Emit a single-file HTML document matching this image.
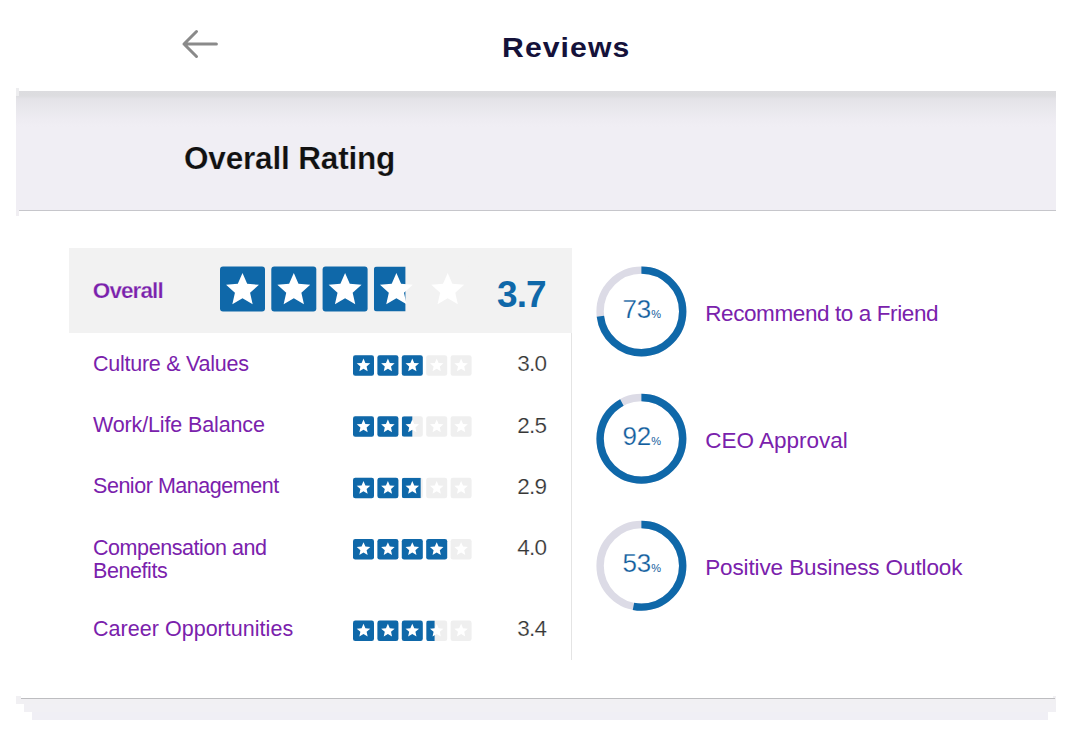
<!DOCTYPE html>
<html><head><meta charset="utf-8">
<style>
*{margin:0;padding:0;box-sizing:border-box}
html,body{width:1072px;height:732px;overflow:hidden;background:#fff;font-family:"Liberation Sans",sans-serif}
.a{position:absolute}
.t{position:absolute;white-space:nowrap;line-height:1}
.num{font-size:22.5px;color:#363636;text-align:right;letter-spacing:-0.8px;-webkit-text-stroke:0.2px #fff}
</style></head><body>
<svg class="a" style="left:175px;top:25px" width="50" height="40" viewBox="175 25 50 40"><path d="M216.4 44 H184 M196.5 31.5 L184 44 L196.5 56.5" fill="none" stroke="#8a8a8a" stroke-width="3" stroke-linecap="round" stroke-linejoin="round"/></svg>
<div class="t" style="left:502.4px;top:33px;font-size:28.5px;font-weight:bold;color:#15123a;letter-spacing:1px;transform:scaleX(1.06);transform-origin:0 0;">Reviews</div>
<div class="a" style="left:16px;top:91px;width:1040px;height:120px;background:linear-gradient(#dcdcdf 0,#dddde0 5px,#e4e3e8 8px,#e7e6eb 14px,#edebf1 26px,#f0eef4 36px)"></div>
<div class="a" style="left:19px;top:210px;width:1037px;height:1px;background:#c6c6cb"></div>
<div class="a" style="left:16px;top:88px;width:3px;height:8px;background:#ededef"></div>
<div class="a" style="left:16px;top:210px;width:3px;height:6px;background:#f0eef2"></div>
<div class="t" style="left:184px;top:143px;font-size:31.5px;font-weight:bold;color:#111;letter-spacing:-0.17px;-webkit-text-stroke:0.2px #f0eef4;">Overall Rating</div>
<div class="a" style="left:69px;top:248px;width:503px;height:85px;background:#f2f2f2"></div>
<div class="a" style="left:571px;top:333px;width:1px;height:327px;background:#e4e4e4"></div>
<div class="t" style="left:92.8px;top:280px;font-size:22.5px;font-weight:bold;color:#7a21ac;letter-spacing:-0.9px;-webkit-text-stroke:0.25px #f2f2f2;">Overall</div>
<svg class="a" style="left:220px;top:266px" width="252" height="47" viewBox="0 0 252 47"><rect x="0.00" y="0.50" width="45" height="45" rx="3" fill="#f2f2f2"/><rect x="0.00" y="0.50" width="45" height="45" rx="3" fill="#0f68a9"/><polygon points="22.50,6.90 27.18,17.76 38.95,18.85 30.07,26.66 32.67,38.20 22.50,32.16 12.33,38.20 14.93,26.66 6.05,18.85 17.82,17.76" fill="#fff"/><rect x="51.30" y="0.50" width="45" height="45" rx="3" fill="#f2f2f2"/><rect x="51.30" y="0.50" width="45" height="45" rx="3" fill="#0f68a9"/><polygon points="73.80,6.90 78.48,17.76 90.25,18.85 81.37,26.66 83.97,38.20 73.80,32.16 63.63,38.20 66.23,26.66 57.35,18.85 69.12,17.76" fill="#fff"/><rect x="102.60" y="0.50" width="45" height="45" rx="3" fill="#f2f2f2"/><rect x="102.60" y="0.50" width="45" height="45" rx="3" fill="#0f68a9"/><polygon points="125.10,6.90 129.78,17.76 141.55,18.85 132.67,26.66 135.27,38.20 125.10,32.16 114.93,38.20 117.53,26.66 108.65,18.85 120.42,17.76" fill="#fff"/><rect x="153.90" y="0.50" width="45" height="45" rx="3" fill="#f2f2f2"/><clipPath id="c220_266_3"><rect x="153.90" y="0.50" width="31.50" height="45"/></clipPath><rect x="153.90" y="0.50" width="45" height="45" rx="3" fill="#0f68a9" clip-path="url(#c220_266_3)"/><polygon points="176.40,6.90 181.08,17.76 192.85,18.85 183.97,26.66 186.57,38.20 176.40,32.16 166.23,38.20 168.83,26.66 159.95,18.85 171.72,17.76" fill="#fff"/><rect x="205.20" y="0.50" width="45" height="45" rx="3" fill="#f2f2f2"/><polygon points="227.70,6.90 232.38,17.76 244.15,18.85 235.27,26.66 237.87,38.20 227.70,32.16 217.53,38.20 220.13,26.66 211.25,18.85 223.02,17.76" fill="#fff"/></svg>
<div class="t" style="left:497px;top:276px;font-size:37px;font-weight:bold;color:#0f68a9;letter-spacing:-0.9px;">3.7</div>
<div class="t" style="left:93px;top:354px;font-size:21.5px;color:#7a21ac;letter-spacing:-0.25px;">Culture &amp; Values</div>
<div class="t" style="left:93px;top:415px;font-size:21.5px;color:#7a21ac;letter-spacing:-0.14px;">Work/Life Balance</div>
<div class="t" style="left:93px;top:476px;font-size:21.5px;color:#7a21ac;letter-spacing:-0.46px;">Senior Management</div>
<div class="t" style="left:93px;top:537px;font-size:21.5px;color:#7a21ac;letter-spacing:-0.43px;line-height:23px;">Compensation and<br>Benefits</div>
<div class="t" style="left:93px;top:619px;font-size:21.5px;color:#7a21ac;letter-spacing:0.03px;">Career Opportunities</div>
<svg class="a" style="left:353px;top:355px" width="121" height="22" viewBox="0 0 121 22"><rect x="0.00" y="0.30" width="21" height="20.5" rx="2.3" fill="#efefef"/><rect x="0.00" y="0.30" width="21" height="20.5" rx="2.3" fill="#0f68a9"/><polygon points="10.50,3.45 12.42,7.90 17.25,8.36 13.61,11.56 14.67,16.29 10.50,13.82 6.33,16.29 7.39,11.56 3.75,8.36 8.58,7.90" fill="#fff"/><rect x="24.40" y="0.30" width="21" height="20.5" rx="2.3" fill="#efefef"/><rect x="24.40" y="0.30" width="21" height="20.5" rx="2.3" fill="#0f68a9"/><polygon points="34.90,3.45 36.82,7.90 41.65,8.36 38.01,11.56 39.07,16.29 34.90,13.82 30.73,16.29 31.79,11.56 28.15,8.36 32.98,7.90" fill="#fff"/><rect x="48.80" y="0.30" width="21" height="20.5" rx="2.3" fill="#efefef"/><rect x="48.80" y="0.30" width="21" height="20.5" rx="2.3" fill="#0f68a9"/><polygon points="59.30,3.45 61.22,7.90 66.05,8.36 62.41,11.56 63.47,16.29 59.30,13.82 55.13,16.29 56.19,11.56 52.55,8.36 57.38,7.90" fill="#fff"/><rect x="73.20" y="0.30" width="21" height="20.5" rx="2.3" fill="#efefef"/><polygon points="83.70,3.45 85.62,7.90 90.45,8.36 86.81,11.56 87.87,16.29 83.70,13.82 79.53,16.29 80.59,11.56 76.95,8.36 81.78,7.90" fill="#fff"/><rect x="97.60" y="0.30" width="21" height="20.5" rx="2.3" fill="#efefef"/><polygon points="108.10,3.45 110.02,7.90 114.85,8.36 111.21,11.56 112.27,16.29 108.10,13.82 103.93,16.29 104.99,11.56 101.35,8.36 106.18,7.90" fill="#fff"/></svg>
<div class="t num" style="left:500px;width:46.2px;top:353px">3.0</div>
<svg class="a" style="left:353px;top:416px" width="121" height="22" viewBox="0 0 121 22"><rect x="0.00" y="0.30" width="21" height="20.5" rx="2.3" fill="#efefef"/><rect x="0.00" y="0.30" width="21" height="20.5" rx="2.3" fill="#0f68a9"/><polygon points="10.50,3.45 12.42,7.90 17.25,8.36 13.61,11.56 14.67,16.29 10.50,13.82 6.33,16.29 7.39,11.56 3.75,8.36 8.58,7.90" fill="#fff"/><rect x="24.40" y="0.30" width="21" height="20.5" rx="2.3" fill="#efefef"/><rect x="24.40" y="0.30" width="21" height="20.5" rx="2.3" fill="#0f68a9"/><polygon points="34.90,3.45 36.82,7.90 41.65,8.36 38.01,11.56 39.07,16.29 34.90,13.82 30.73,16.29 31.79,11.56 28.15,8.36 32.98,7.90" fill="#fff"/><rect x="48.80" y="0.30" width="21" height="20.5" rx="2.3" fill="#efefef"/><clipPath id="c353_416_2"><rect x="48.80" y="0.30" width="10.50" height="20.5"/></clipPath><rect x="48.80" y="0.30" width="21" height="20.5" rx="2.3" fill="#0f68a9" clip-path="url(#c353_416_2)"/><polygon points="59.30,3.45 61.22,7.90 66.05,8.36 62.41,11.56 63.47,16.29 59.30,13.82 55.13,16.29 56.19,11.56 52.55,8.36 57.38,7.90" fill="#fff"/><rect x="73.20" y="0.30" width="21" height="20.5" rx="2.3" fill="#efefef"/><polygon points="83.70,3.45 85.62,7.90 90.45,8.36 86.81,11.56 87.87,16.29 83.70,13.82 79.53,16.29 80.59,11.56 76.95,8.36 81.78,7.90" fill="#fff"/><rect x="97.60" y="0.30" width="21" height="20.5" rx="2.3" fill="#efefef"/><polygon points="108.10,3.45 110.02,7.90 114.85,8.36 111.21,11.56 112.27,16.29 108.10,13.82 103.93,16.29 104.99,11.56 101.35,8.36 106.18,7.90" fill="#fff"/></svg>
<div class="t num" style="left:500px;width:46.2px;top:415px">2.5</div>
<svg class="a" style="left:353px;top:477px" width="121" height="22" viewBox="0 0 121 22"><rect x="0.00" y="0.80" width="21" height="20.5" rx="2.3" fill="#efefef"/><rect x="0.00" y="0.80" width="21" height="20.5" rx="2.3" fill="#0f68a9"/><polygon points="10.50,3.95 12.42,8.40 17.25,8.86 13.61,12.06 14.67,16.79 10.50,14.32 6.33,16.79 7.39,12.06 3.75,8.86 8.58,8.40" fill="#fff"/><rect x="24.40" y="0.80" width="21" height="20.5" rx="2.3" fill="#efefef"/><rect x="24.40" y="0.80" width="21" height="20.5" rx="2.3" fill="#0f68a9"/><polygon points="34.90,3.95 36.82,8.40 41.65,8.86 38.01,12.06 39.07,16.79 34.90,14.32 30.73,16.79 31.79,12.06 28.15,8.86 32.98,8.40" fill="#fff"/><rect x="48.80" y="0.80" width="21" height="20.5" rx="2.3" fill="#efefef"/><clipPath id="c353_477_2"><rect x="48.80" y="0.80" width="18.90" height="20.5"/></clipPath><rect x="48.80" y="0.80" width="21" height="20.5" rx="2.3" fill="#0f68a9" clip-path="url(#c353_477_2)"/><polygon points="59.30,3.95 61.22,8.40 66.05,8.86 62.41,12.06 63.47,16.79 59.30,14.32 55.13,16.79 56.19,12.06 52.55,8.86 57.38,8.40" fill="#fff"/><rect x="73.20" y="0.80" width="21" height="20.5" rx="2.3" fill="#efefef"/><polygon points="83.70,3.95 85.62,8.40 90.45,8.86 86.81,12.06 87.87,16.79 83.70,14.32 79.53,16.79 80.59,12.06 76.95,8.86 81.78,8.40" fill="#fff"/><rect x="97.60" y="0.80" width="21" height="20.5" rx="2.3" fill="#efefef"/><polygon points="108.10,3.95 110.02,8.40 114.85,8.86 111.21,12.06 112.27,16.79 108.10,14.32 103.93,16.79 104.99,12.06 101.35,8.86 106.18,8.40" fill="#fff"/></svg>
<div class="t num" style="left:500px;width:46.2px;top:476px">2.9</div>
<svg class="a" style="left:353px;top:539px" width="121" height="22" viewBox="0 0 121 22"><rect x="0.00" y="0.00" width="21" height="20.5" rx="2.3" fill="#efefef"/><rect x="0.00" y="0.00" width="21" height="20.5" rx="2.3" fill="#0f68a9"/><polygon points="10.50,3.15 12.42,7.60 17.25,8.06 13.61,11.26 14.67,15.99 10.50,13.52 6.33,15.99 7.39,11.26 3.75,8.06 8.58,7.60" fill="#fff"/><rect x="24.40" y="0.00" width="21" height="20.5" rx="2.3" fill="#efefef"/><rect x="24.40" y="0.00" width="21" height="20.5" rx="2.3" fill="#0f68a9"/><polygon points="34.90,3.15 36.82,7.60 41.65,8.06 38.01,11.26 39.07,15.99 34.90,13.52 30.73,15.99 31.79,11.26 28.15,8.06 32.98,7.60" fill="#fff"/><rect x="48.80" y="0.00" width="21" height="20.5" rx="2.3" fill="#efefef"/><rect x="48.80" y="0.00" width="21" height="20.5" rx="2.3" fill="#0f68a9"/><polygon points="59.30,3.15 61.22,7.60 66.05,8.06 62.41,11.26 63.47,15.99 59.30,13.52 55.13,15.99 56.19,11.26 52.55,8.06 57.38,7.60" fill="#fff"/><rect x="73.20" y="0.00" width="21" height="20.5" rx="2.3" fill="#efefef"/><rect x="73.20" y="0.00" width="21" height="20.5" rx="2.3" fill="#0f68a9"/><polygon points="83.70,3.15 85.62,7.60 90.45,8.06 86.81,11.26 87.87,15.99 83.70,13.52 79.53,15.99 80.59,11.26 76.95,8.06 81.78,7.60" fill="#fff"/><rect x="97.60" y="0.00" width="21" height="20.5" rx="2.3" fill="#efefef"/><polygon points="108.10,3.15 110.02,7.60 114.85,8.06 111.21,11.26 112.27,15.99 108.10,13.52 103.93,15.99 104.99,11.26 101.35,8.06 106.18,7.60" fill="#fff"/></svg>
<div class="t num" style="left:500px;width:46.2px;top:537px">4.0</div>
<svg class="a" style="left:353px;top:620px" width="121" height="22" viewBox="0 0 121 22"><rect x="0.00" y="0.60" width="21" height="20.5" rx="2.3" fill="#efefef"/><rect x="0.00" y="0.60" width="21" height="20.5" rx="2.3" fill="#0f68a9"/><polygon points="10.50,3.75 12.42,8.20 17.25,8.66 13.61,11.86 14.67,16.59 10.50,14.12 6.33,16.59 7.39,11.86 3.75,8.66 8.58,8.20" fill="#fff"/><rect x="24.40" y="0.60" width="21" height="20.5" rx="2.3" fill="#efefef"/><rect x="24.40" y="0.60" width="21" height="20.5" rx="2.3" fill="#0f68a9"/><polygon points="34.90,3.75 36.82,8.20 41.65,8.66 38.01,11.86 39.07,16.59 34.90,14.12 30.73,16.59 31.79,11.86 28.15,8.66 32.98,8.20" fill="#fff"/><rect x="48.80" y="0.60" width="21" height="20.5" rx="2.3" fill="#efefef"/><rect x="48.80" y="0.60" width="21" height="20.5" rx="2.3" fill="#0f68a9"/><polygon points="59.30,3.75 61.22,8.20 66.05,8.66 62.41,11.86 63.47,16.59 59.30,14.12 55.13,16.59 56.19,11.86 52.55,8.66 57.38,8.20" fill="#fff"/><rect x="73.20" y="0.60" width="21" height="20.5" rx="2.3" fill="#efefef"/><clipPath id="c353_620_3"><rect x="73.20" y="0.60" width="8.40" height="20.5"/></clipPath><rect x="73.20" y="0.60" width="21" height="20.5" rx="2.3" fill="#0f68a9" clip-path="url(#c353_620_3)"/><polygon points="83.70,3.75 85.62,8.20 90.45,8.66 86.81,11.86 87.87,16.59 83.70,14.12 79.53,16.59 80.59,11.86 76.95,8.66 81.78,8.20" fill="#fff"/><rect x="97.60" y="0.60" width="21" height="20.5" rx="2.3" fill="#efefef"/><polygon points="108.10,3.75 110.02,8.20 114.85,8.66 111.21,11.86 112.27,16.59 108.10,14.12 103.93,16.59 104.99,11.86 101.35,8.66 106.18,8.20" fill="#fff"/></svg>
<div class="t num" style="left:500px;width:46.2px;top:618px">3.4</div>
<svg class="a" style="left:594px;top:264px" width="94" height="94" viewBox="0 0 94 94"><circle cx="47.40" cy="47.45" r="41.3" fill="none" stroke="#dcdbe6" stroke-width="7.4"/><circle cx="47.40" cy="47.45" r="41.3" fill="none" stroke="#0f68a9" stroke-width="7.4" stroke-dasharray="189.43 259.50" transform="rotate(-90 47.40 47.45)"/></svg><div class="t" style="left:622.4px;top:296px;font-size:26px;color:#125d9d;-webkit-text-stroke:0.25px #fff;">73<span style="font-size:11px;-webkit-text-stroke:0">%</span></div>
<div class="t" style="left:705.2px;top:303px;font-size:22.5px;color:#7a21ac;letter-spacing:-0.4px;">Recommend to a Friend</div>
<svg class="a" style="left:594px;top:391px" width="94" height="94" viewBox="0 0 94 94"><circle cx="47.40" cy="47.80" r="41.3" fill="none" stroke="#dcdbe6" stroke-width="7.4"/><circle cx="47.40" cy="47.80" r="41.3" fill="none" stroke="#0f68a9" stroke-width="7.4" stroke-dasharray="238.74 259.50" transform="rotate(-90 47.40 47.80)"/></svg><div class="t" style="left:622.4px;top:423px;font-size:26px;color:#125d9d;-webkit-text-stroke:0.25px #fff;">92<span style="font-size:11px;-webkit-text-stroke:0">%</span></div>
<div class="t" style="left:705.2px;top:430px;font-size:22.5px;color:#7a21ac;">CEO Approval</div>
<svg class="a" style="left:594px;top:518px" width="94" height="94" viewBox="0 0 94 94"><circle cx="47.40" cy="47.80" r="41.3" fill="none" stroke="#dcdbe6" stroke-width="7.4"/><circle cx="47.40" cy="47.80" r="41.3" fill="none" stroke="#0f68a9" stroke-width="7.4" stroke-dasharray="137.53 259.50" transform="rotate(-90 47.40 47.80)"/></svg><div class="t" style="left:622.4px;top:550px;font-size:26px;color:#125d9d;-webkit-text-stroke:0.25px #fff;">53<span style="font-size:11px;-webkit-text-stroke:0">%</span></div>
<div class="t" style="left:705.2px;top:557px;font-size:22.5px;color:#7a21ac;letter-spacing:-0.12px;">Positive Business Outlook</div>
<div class="a" style="left:16px;top:696px;width:5px;height:8px;background:#f1f0f3"></div>
<div class="a" style="left:1053px;top:696px;width:3px;height:8px;background:#f1f0f3"></div>
<div class="a" style="left:16px;top:699px;width:1040px;height:5px;background:#f1f0f3"></div>
<div class="a" style="left:24px;top:704px;width:1032px;height:8px;background:#f1f0f4"></div>
<div class="a" style="left:32px;top:712px;width:1016px;height:8px;background:#f0eff5"></div>
<div class="a" style="left:21px;top:698px;width:1034px;height:1px;background:#bdbdc0"></div>
</body></html>
